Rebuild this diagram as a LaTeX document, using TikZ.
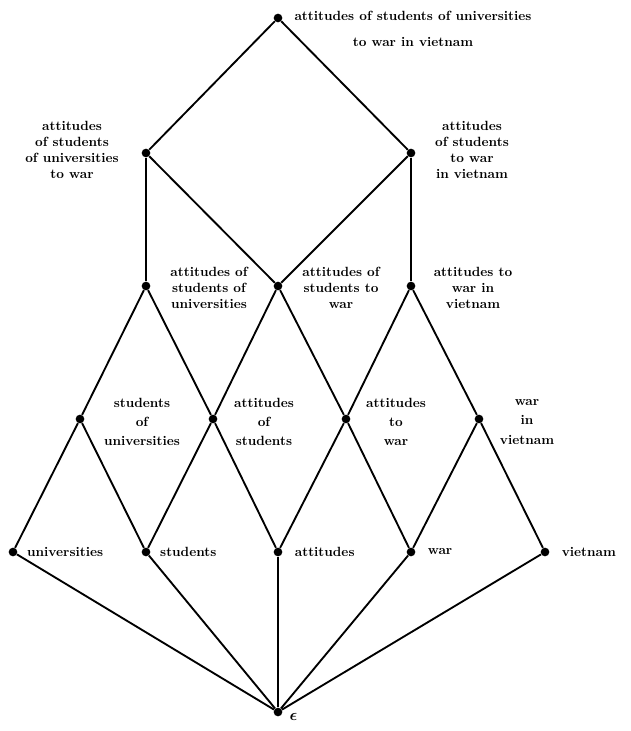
\documentclass[tikz,border=0pt]{standalone}
\usetikzlibrary{positioning}

\begin{document}
\begin{tikzpicture}[
		x=0.75pt, y=-0.75pt,
		dot/.style = {circle, fill=black, inner sep=0pt, minimum size=6.5pt},
		% Estilo para las etiquetas de cada vértice
		lbl/.style = {align=center, inner sep=1pt, font=\bfseries\boldmath},
		edge/.style = {line width=1.4pt}
		]
		\useasboundingbox (0,0) rectangle (631,731);
		
		% --- VÉRTICE SUPERIOR ---
		\node [dot] (full) at (278, 18) {};
		
		% --- NIVEL 2 ---
		\node [dot] (ASUW) at (146, 153) {};
		\node [dot] (ASWV) at (411, 153) {};
		
		% --- NIVEL 3 ---
		\node [dot] (ASU) at (146, 286) {};
		\node [dot] (ASW) at (278, 286) {};
		\node [dot] (AWV) at (411, 286) {};
		
		% --- NIVEL 4 ---
		\node [dot] (SU) at (80, 419) {};
		\node [dot] (AS) at (213, 419) {};
		\node [dot] (AW) at (346, 419) {};
		\node [dot] (WV) at (479, 419) {};
		
		% --- NIVEL 5: PALABRAS ---
		\node [dot] (U) at (13, 552) {};
		\node [dot] (S) at (146, 552) {};
		\node [dot] (A) at (278, 552) {};
		\node [dot] (W) at (411, 552) {};
		\node [dot] (V) at (545, 552) {};
		
		% --- VÉRTICE INFERIOR ---
		\node [dot] (eps) at (278, 712) {};
		
		% --- ETIQUETAS ---
		\node [lbl] (full_lbl) at (413, 29) {attitudes of students of universities \\[8pt] to war in vietnam};
		\node [lbl] (ASUW_lbl) at (72, 150) {attitudes \\ of students \\ of universities \\ to war};
		\node [lbl] (ASWV_lbl) at (472, 150) {attitudes \\ of students \\ to war \\ in vietnam};
		\node [lbl] (ASU_lbl) at (209, 288) {attitudes of \\ students of \\ universities};
		\node [lbl] (ASW_lbl) at (341, 288) {attitudes of \\ students to \\ war};
		\node [lbl] (AWV_lbl) at (473, 288) {attitudes to \\ war in \\ vietnam};
		\node [lbl] (SU_lbl) at (142, 422) {students \\[2.5pt] of \\[2.5pt] universities};
		\node [lbl] (AS_lbl) at (264, 422) {attitudes \\[2.5pt] of \\[2.5pt] students};
		\node [lbl] (AW_lbl) at (396, 422) {attitudes \\[2.5pt] to \\[2.5pt] war};
		\node [lbl] (WV_lbl) at (527, 422) {war \\[2.5pt] in \\[2.5pt] vietnam};
		\node [lbl, right=6pt of U] (U_lbl) {universities};
		\node [lbl, right=6pt of S] (S_lbl) {students};
		\node [lbl, right=8pt of A] (A_lbl) {attitudes};
		\node [lbl, right=8pt of W] (W_lbl) {war};
		\node [lbl, right=8pt of V] (V_lbl) {vietnam};
		\node [lbl, font=\large\boldmath, right=4pt of eps, yshift=-4pt] (eps_lbl) {$\epsilon$};
		
		% --- CONEXIONES ---
		\draw [edge] (full) -- (ASUW);
		\draw [edge] (full) -- (ASWV);
		
		\draw [edge] (ASUW) -- (ASU);
		\draw [edge] (ASUW) -- (ASW);
		\draw [edge] (ASWV) -- (ASW);
		\draw [edge] (ASWV) -- (AWV);
		
		\draw [edge] (ASU) -- (SU);
		\draw [edge] (ASU) -- (AS);
		\draw [edge] (ASW) -- (AS);
		\draw [edge] (ASW) -- (AW);
		\draw [edge] (AWV) -- (AW);
		\draw [edge] (AWV) -- (WV);
		
		\draw [edge] (SU) -- (U);
		\draw [edge] (SU) -- (S);
		\draw [edge] (AS) -- (S);
		\draw [edge] (AS) -- (A);
		\draw [edge] (AW) -- (A);
		\draw [edge] (AW) -- (W);
		\draw [edge] (WV) -- (W);
		\draw [edge] (WV) -- (V);
		
		% De las palabras al vértice vacío
		\foreach \w in {U, S, A, W, V}
			\draw [edge] (\w) -- (eps);
		
	\end{tikzpicture}
\end{document}
